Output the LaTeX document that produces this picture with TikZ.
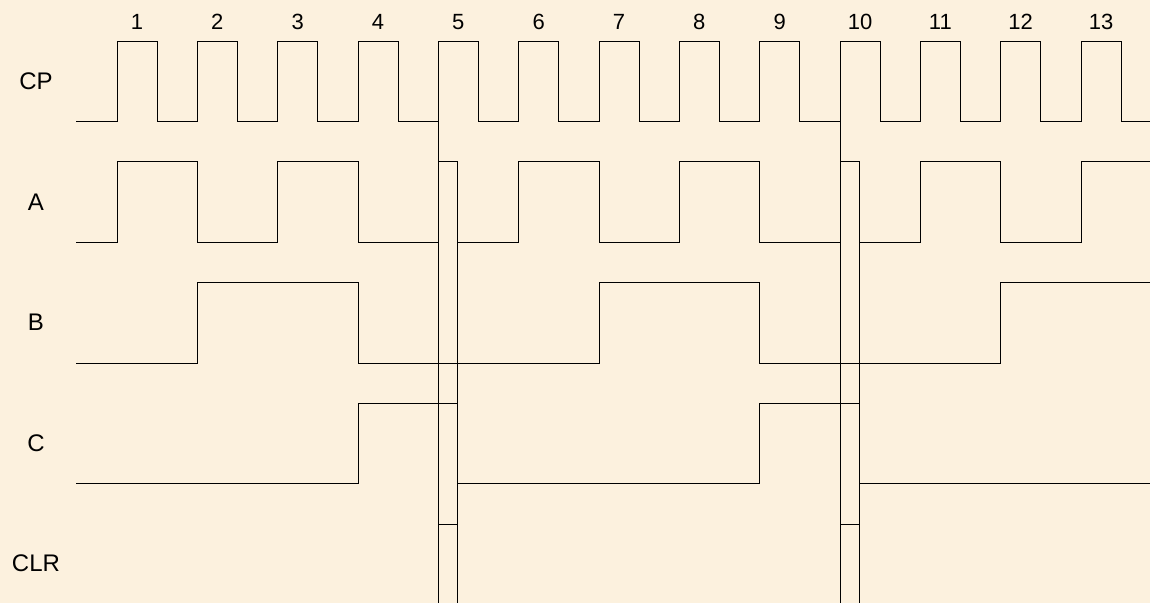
\documentclass[tikz,border=0pt]{standalone}
\usepackage{fontspec}
\setmainfont{Liberation Sans}
\definecolor{parch}{RGB}{252,241,222}
\begin{document}
\begin{tikzpicture}[x=1pt,y=-1pt,
  wave/.style={draw=black,line width=1pt,line join=miter},
  sig/.style={font=\fontsize{24}{28}\selectfont,anchor=center,inner sep=0pt},
  num/.style={font=\fontsize{22}{26}\selectfont,anchor=center,inner sep=0pt},
  declare function={ex(\k)=117+80.333*(\k-1); fx(\k)=ex(\k)+40.17;
    hi(\r)=41+120.75*\r; lo(\r)=hi(\r)+80.5; cw=19.5;}]
\fill[parch] (0,0) rectangle (1150,603);
\useasboundingbox (0,0) rectangle (1150,603);
% labels
\node[sig] (lcp) at (36,81) {CP};
\node[sig] (la) at (36,202) {A};
\node[sig] (lb) at (36,322) {B};
\node[sig] (lc) at (36,443) {C};
\node[sig] (lclr) at (36,563) {CLR};
\foreach \k in {1,...,13}{
  \node[num] (n\k) at ({ex(\k)+20},22) {\k};
}
% CP
\draw[wave] (76,{lo(0)})
  \foreach \k in {1,...,13}{ -| ({ex(\k)},{hi(0)}) -| ({fx(\k)},{lo(0)}) }
  -- (1150,{lo(0)});
% A
\draw[wave] (76,{lo(1)})
  -| ({ex(1)},{hi(1)}) -| ({ex(2)},{lo(1)})
  -| ({ex(3)},{hi(1)}) -| ({ex(4)},{lo(1)})
  -| ({ex(5)},{hi(1)}) -| ({ex(5)+cw},{lo(1)})
  -| ({ex(6)},{hi(1)}) -| ({ex(7)},{lo(1)})
  -| ({ex(8)},{hi(1)}) -| ({ex(9)},{lo(1)})
  -| ({ex(10)},{hi(1)}) -| ({ex(10)+cw},{lo(1)})
  -| ({ex(11)},{hi(1)}) -| ({ex(12)},{lo(1)})
  -| ({ex(13)},{hi(1)}) -- (1150,{hi(1)});
% B
\draw[wave] (76,{lo(2)})
  -| ({ex(2)},{hi(2)}) -| ({ex(4)},{lo(2)})
  -| ({ex(7)},{hi(2)}) -| ({ex(9)},{lo(2)})
  -| ({ex(12)},{hi(2)}) -- (1150,{hi(2)});
% C
\draw[wave] (76,{lo(3)})
  -| ({ex(4)},{hi(3)}) -| ({ex(5)+cw},{lo(3)})
  -| ({ex(9)},{hi(3)}) -| ({ex(10)+cw},{lo(3)})
  -- (1150,{lo(3)});
% CLR pulses and marker lines
\foreach \k in {5,10}{
  \draw[wave] ({ex(\k)},{hi(0)}) -- ({ex(\k)},603);
  \draw[wave] ({ex(\k)+cw},{hi(1)}) -- ({ex(\k)+cw},603);
  \draw[wave] ({ex(\k)},{hi(4)}) -- ({ex(\k)+cw},{hi(4)});
}
\end{tikzpicture}
\end{document}
